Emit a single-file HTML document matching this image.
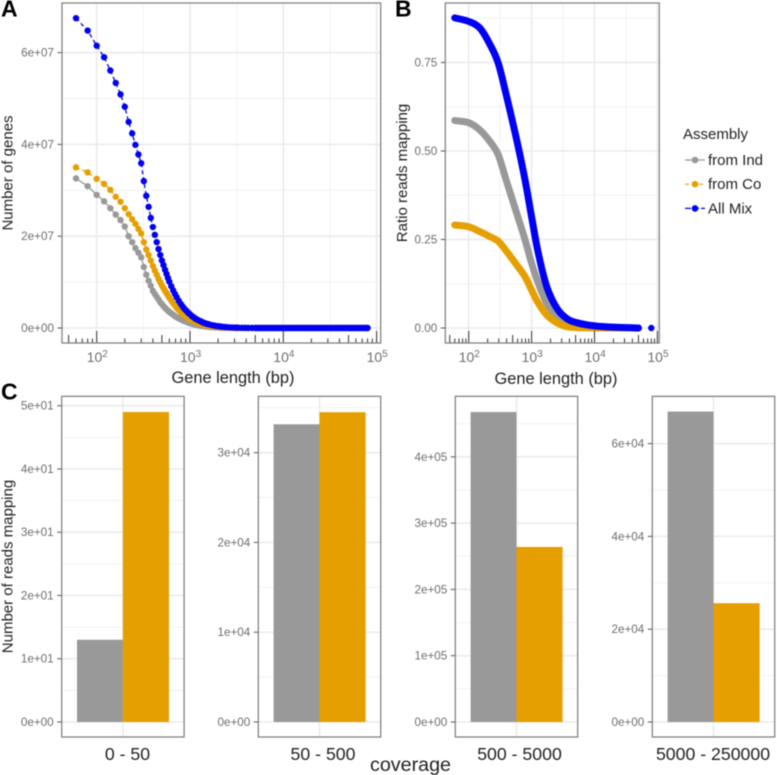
<!DOCTYPE html>
<html>
<head>
<meta charset="utf-8">
<title>Assembly mapping chart</title>
<style>
html,body{margin:0;padding:0;background:#fff;width:777px;height:775px;overflow:hidden}
svg{display:block;font-family:"Liberation Sans",sans-serif}
.tick{font-size:11.7px;fill:#6e6e6e}
.title{font-size:15px;fill:#222}
.xtitle{font-size:16.4px;fill:#222}
.cat{font-size:17.7px;fill:#222}
.cov{font-size:19.7px;fill:#222}
.tag{font-size:23px;font-weight:bold;fill:#000}
</style>
</head>
<body>
<svg id="chart" xmlns="http://www.w3.org/2000/svg" width="777" height="775" viewBox="0 0 777 775">
  <g id="layer" style="filter:blur(0.45px)"></g>
</svg>
<script>
// ---------- Panel A data: number of genes (values in units of 1e7) ----------
const lengthsA = [60,80,100,120,140,160,180,200,220,240,260,280,300,320,340,360,380,400,420,440,460,480,500,
 520,540,560,580,600,630,660,690,720,760,
 800,840,880,920,960,1000,1050,1100,1150,1200,
 1260,1320,1380,1450,1520,1600,1700,1800,1900,2000,
 2100,2200,2350,2500,2700,2900,3100,3300,3600,3900,
 4200,4600,5000,
 5250,5500,5800,6100,6400,6700,7000,7400,7800,8200,
 8600,9000,9500,10000,10500,11000,11600,12200,12800,13400,
 14100,14800,15500,16300,17100,18000,18900,19800,20800,21800,
 22900,24000,25200,26500,27800,29200,30700,32200,33800,35500,
 37300,39200,41100,43200,45300,47600,50000,52500,55100,57900,
 60800,63800,67000,70400,73900,77600,80000];
const genesInd = [3.26,3.09,2.90,2.76,2.61,2.47,2.35,2.21,2.00,1.87,1.74,1.64,1.54,1.33,1.16,1.03,0.92,0.81,0.74,0.68,0.62,0.56,0.52,
 0.48,0.44,0.41,0.38,0.35,0.32,0.29,0.26,0.235,0.21,
 0.185,0.165,0.148,0.132,0.118,0.105,0.092,0.08,0.07,0.062,
 0.053,0.046,0.04,0.034,0.029,0.024,0.019,0.015,0.012,0.01,
 0.008,0.006,0.005,0.003,0.002,0.002,0.001,0.001,0,0,
 0,0,0,
 0,0,0,0,0,0,0,0,0,0,
 0,0,0,0,0,0,0,0,0,0,
 0,0,0,0,0,0,0,0,0,0,
 0,0,0,0,0,0,0,0,0,0,
 0,0,0,0,0,0,0,0,0,0,
 0,0,0,0,0,0,0];
const genesCo = [3.50,3.39,3.25,3.14,3.01,2.86,2.75,2.61,2.48,2.37,2.27,2.16,2.06,1.87,1.71,1.59,1.47,1.35,1.25,1.16,1.07,1.00,0.93,
 0.87,0.81,0.76,0.71,0.66,0.60,0.54,0.49,0.44,0.39,
 0.34,0.30,0.27,0.24,0.215,0.19,0.165,0.145,0.125,0.11,
 0.095,0.08,0.07,0.06,0.05,0.042,0.034,0.027,0.022,0.018,
 0.015,0.012,0.009,0.007,0.005,0.003,0.002,0.002,0.001,0.001,
 0,0,0,
 0,0,0,0,0,0,0,0,0,0,
 0,0,0,0,0,0,0,0,0,0,
 0,0,0,0,0,0,0,0,0,0,
 0,0,0,0,0,0,0,0,0,0,
 0,0,0,0,0,0,0,0,0,0,
 0,0,0,0,0,0,0];
const genesMix = [6.75,6.48,6.15,5.90,5.61,5.34,5.09,4.82,4.49,4.24,3.99,3.78,3.59,3.20,2.88,2.64,2.40,2.20,2.03,1.87,1.72,1.59,1.47,
 1.37,1.27,1.18,1.09,1.01,0.91,0.82,0.74,0.67,0.59,
 0.52,0.46,0.41,0.37,0.33,0.30,0.26,0.23,0.20,0.18,
 0.16,0.14,0.12,0.105,0.09,0.08,0.065,0.055,0.045,0.04,
 0.033,0.028,0.022,0.018,0.013,0.01,0.008,0.006,0.004,0.003,
 0.002,0.002,0.001,
 0,0,0,0,0,0,0,0,0,0,
 0,0,0,0,0,0,0,0,0,0,
 0,0,0,0,0,0,0,0,0,0,
 0,0,0,0,0,0,0,0,0,0,
 0,0,0,0,0,0,0,0,0,0,
 0,0,0,0,0,0,0];
const tickValuesA = [0,2,4,6];
const tickLabelsA = ["0e+00","2e+07","4e+07","6e+07"];
const minorValuesA = [1,3,5];

// ---------- Panel B data: ratio of reads mapping ----------
const lengthsB = [60,100,151,219,295,402,580,787,1000,1280,1740,2520,3610,5210,10000,22000,50000];
const ratioInd = [0.586,0.580,0.559,0.526,0.489,0.413,0.324,0.249,0.183,0.126,0.070,0.027,0.009,0.004,0.001,0,0];
const ratioCo  = [0.291,0.286,0.272,0.258,0.245,0.216,0.178,0.145,0.107,0.070,0.037,0.015,0.004,0.001,0,0,0];
const ratioMix = [0.876,0.866,0.847,0.800,0.748,0.653,0.531,0.418,0.314,0.211,0.117,0.056,0.027,0.015,0.006,0.002,0];
const lastMixLength = 80000;
const lastMixRatio = 0;
const tickValuesB = [0,0.25,0.5,0.75];
const tickLabelsB = ["0.00","0.25","0.50","0.75"];
const minorValuesB = [0.125,0.375,0.625,0.875];

// ---------- Panel C data: reads mapping per coverage bin ----------
const coverageBins = ["0 - 50","50 - 500","500 - 5000","5000 - 250000"];
const readsInd = [13,33150,467500,66900];
const readsCo = [49,34500,264000,25600];
const tickValues0 = [0,10,20,30,40,50];
const tickLabels0 = ["0e+00","1e+01","2e+01","3e+01","4e+01","5e+01"];
const tickValues1 = [0,10000,20000,30000];
const tickLabels1 = ["0e+00","1e+04","2e+04","3e+04"];
const tickValues2 = [0,100000,200000,300000,400000];
const tickLabels2 = ["0e+00","1e+05","2e+05","3e+05","4e+05"];
const tickValues3 = [0,20000,40000,60000];
const tickLabels3 = ["0e+00","2e+04","4e+04","6e+04"];

// ---------- Drawing ----------
const NS = "http://www.w3.org/2000/svg";
const layer = document.getElementById("layer");
const GREY = "#999999", ORANGE = "#E69F00", BLUE = "#0000F5";

function make(tag, parent) {
  const el = document.createElementNS(NS, tag);
  parent.appendChild(el);
  return el;
}
function group(parent, name) {
  const el = make("g", parent);
  
  
  return el;
}
function line(parent, name, x1, y1, x2, y2, color, w) {
  const el = make("line", parent);
  
  
  el.setAttribute("x1", x1); el.setAttribute("y1", y1);
  el.setAttribute("x2", x2); el.setAttribute("y2", y2);
  el.setAttribute("stroke", color); el.setAttribute("stroke-width", w);
  return el;
}
function text(parent, name, str, x, y, cls, anchor) {
  const el = make("text", parent);
  
  
  el.setAttribute("x", x); el.setAttribute("y", y);
  el.setAttribute("class", cls);
  el.setAttribute("text-anchor", anchor || "start");
  el.textContent = str;
  return el;
}
function frame(parent, l, t, r, b) {
  const el = make("rect", parent);
  
  
  el.setAttribute("x", l); el.setAttribute("y", t);
  el.setAttribute("width", r - l); el.setAttribute("height", b - t);
  el.setAttribute("fill", "none"); el.setAttribute("stroke", "#7a7a7a"); el.setAttribute("stroke-width", 1.2);
}
function yAxis(parent, values, labels, minors, yFn, l, r) {
  minors.forEach(function (v) { line(parent, "minor-gridline", l, yFn(v), r, yFn(v), "#f0f0f0", 0.9); });
  values.forEach(function (v, i) {
    line(parent, "major-gridline", l, yFn(v), r, yFn(v), "#eaeaea", 1.5);
    line(parent, "y-tick", l - 4.5, yFn(v), l, yFn(v), "#555", 1);
    text(parent, "y-tick-label", labels[i], l - 8, yFn(v) + 4, "tick", "end");
  });
}
function logXAxis(parent, xFn, l, r, t, b, sup) {
  const decades = [2, 3, 4, 5];
  [1.5, 2.5, 3.5, 4.5].forEach(function (d) {
    const x = xFn(Math.pow(10, d));
    if (x > l && x < r) line(parent, "minor-gridline", x, t, x, b, "#f0f0f0", 0.9);
  });
  decades.forEach(function (d) {
    const x = xFn(Math.pow(10, d));
    line(parent, "major-gridline", x, t, x, b, "#eaeaea", 1.5);
    const lab = text(parent, "x-tick-label", "10", x - sup, 362, "tick", "start");
    lab.style.fontSize = "14px";
    const s = make("tspan", lab);
    s.setAttribute("dy", "-5");
    s.setAttribute("font-size", "10");
    s.textContent = d;
  });
}
function logTicks(parent, xFn, b) {
  [1, 2, 3, 4].forEach(function (d) {
    [1, 2, 3, 4, 5, 6, 7, 8, 9].forEach(function (m) {
      const len = Math.pow(10, d) * m;
      if (len < 50) return;
      const h = m === 1 ? 12 : (m === 5 ? 8 : 4.5);
      line(parent, "log-tick", xFn(len), b, xFn(len), b - h, "#333", 1);
    });
  });
  line(parent, "log-tick", xFn(1e5), b, xFn(1e5), b - 12, "#333", 1);
}
function points(xs, ys) {
  return xs.map(function (x, i) { return x + "," + ys[i]; }).join(" ");
}
function dottedSeries(parent, name, lengths, values, xFn, yFn, color, r, dash) {
  const g = group(parent, name);
  const p = make("polyline", g);
  
  
  p.setAttribute("points", points(lengths.map(xFn), values.map(yFn)));
  p.setAttribute("fill", "none"); p.setAttribute("stroke", color); p.setAttribute("stroke-width", 1.3);
  if (dash) p.setAttribute("stroke-dasharray", dash);
  lengths.forEach(function (len, i) {
    const c = make("circle", g);
    
    
    c.setAttribute("cx", xFn(len)); c.setAttribute("cy", yFn(values[i]));
    c.setAttribute("r", r); c.setAttribute("fill", color);
  });
}
function smoothPath(xs, ys) {
  let d = "M" + xs[0] + " " + ys[0];
  for (let i = 0; i < xs.length - 1; i++) {
    const a = Math.max(i - 1, 0), b = i + 1, c = Math.min(i + 2, xs.length - 1);
    const c1x = xs[i] + (xs[b] - xs[a]) / 6, c1y = ys[i] + (ys[b] - ys[a]) / 6;
    const c2x = xs[b] - (xs[c] - xs[i]) / 6, c2y = ys[b] - (ys[c] - ys[i]) / 6;
    d += " C" + c1x + " " + c1y + " " + c2x + " " + c2y + " " + xs[b] + " " + ys[b];
  }
  return d;
}
function thickSeries(parent, name, lengths, values, xFn, yFn, color) {
  const p = make("path", parent);
  
  
  p.setAttribute("d", smoothPath(lengths.map(xFn), values.map(yFn)));
  p.setAttribute("fill", "none"); p.setAttribute("stroke", color); p.setAttribute("stroke-width", 7);
  p.setAttribute("stroke-linecap", "round"); p.setAttribute("stroke-linejoin", "round");
}
function rotated(parent, name, str, x, yMid) {
  const el = text(parent, name, str, 0, 0, "title", "middle");
  el.setAttribute("transform", "translate(" + x + "," + yMid + ") rotate(-90)");
}
function bar(parent, name, x0, x1, yTop, yBase, color) {
  const el = make("rect", parent);
  
  
  el.setAttribute("x", x0); el.setAttribute("y", yTop);
  el.setAttribute("width", x1 - x0); el.setAttribute("height", yBase - yTop);
  el.setAttribute("fill", color);
}

// Panel A
const gA = group(layer, "panel-a");
const xA = function (len) { return 96.7 + 93.3 * (Math.log10(len) - 2); };
const yA = function (v) { return 328 - v * 45.9; };
logXAxis(gA, xA, 62, 380.7, 3, 343, 10);
yAxis(gA, tickValuesA, tickLabelsA, minorValuesA, yA, 62, 380.7);
dottedSeries(gA, "series-from-ind", lengthsA, genesInd, xA, yA, GREY, 3.2, null);
dottedSeries(gA, "series-from-co", lengthsA, genesCo, xA, yA, ORANGE, 3.2, "4 3");
dottedSeries(gA, "series-all-mix", lengthsA, genesMix, xA, yA, BLUE, 3.2, "4 3");
logTicks(gA, xA, 343);
frame(gA, 62, 3, 380.7, 343);
text(gA, "x-axis-title", "Gene length (bp)", 233, 383, "xtitle", "middle");
rotated(gA, "y-axis-title", "Number of genes", 12.5, 173);
text(gA, "panel-label-a", "A", 1, 16.5, "tag");

// Panel B
const gB = group(layer, "panel-b");
const xB = function (len) { return 468.7 + 62.9 * (Math.log10(len) - 2); };
const yB = function (v) { return 328 - v * 354; };
logXAxis(gB, xB, 445.3, 659.3, 3, 343, 10);
yAxis(gB, tickValuesB, tickLabelsB, minorValuesB, yB, 445.3, 659.3);
thickSeries(gB, "ratio-from-ind", lengthsB, ratioInd, xB, yB, GREY);
thickSeries(gB, "ratio-from-co", lengthsB, ratioCo, xB, yB, ORANGE);
thickSeries(gB, "ratio-all-mix", lengthsB, ratioMix, xB, yB, BLUE);
const lastDot = make("circle", gB);


lastDot.setAttribute("cx", xB(lastMixLength));
lastDot.setAttribute("cy", yB(lastMixRatio));
lastDot.setAttribute("r", 3.2);
lastDot.setAttribute("fill", BLUE);
logTicks(gB, xB, 343);
frame(gB, 445.3, 3, 659.3, 343);
text(gB, "x-axis-title", "Gene length (bp)", 556, 384, "xtitle", "middle");
rotated(gB, "y-axis-title", "Ratio reads mapping", 407, 173);
text(gB, "panel-label-b", "B", 395, 16.5, "tag");

// Panel C
const gC = group(layer, "panel-c");
function barPanel(idx, left, ticks, labels, pxPerUnit, labelCenter) {
  const g = group(gC, "bar-panel-" + (idx + 1));
  const right = left + 122.4, base = 722;
  const yFn = function (v) { return base - v * pxPerUnit; };
  const step = ticks[1] - ticks[0];
  const minors = ticks.map(function (v) { return v + step / 2; }).filter(function (v) { return yFn(v) > 397; });
  const mid = left + 61.2;
  line(g, "major-gridline", mid, 396.3, mid, 737, "#eaeaea", 1.5);
  yAxis(g, ticks, labels, minors, yFn, left, right);
  bar(g, "bar-from-ind", left + 15.3, mid, yFn(readsInd[idx]), base, GREY);
  bar(g, "bar-from-co", mid, left + 107.3, yFn(readsCo[idx]), base, ORANGE);
  frame(g, left, 396.3, right, 737);
  text(g, "x-category-label", coverageBins[idx], labelCenter, 760, "cat", "middle");
}
barPanel(0, 61.7, tickValues0, tickLabels0, 6.326, 127.5);
barPanel(1, 258.3, tickValues1, tickLabels1, 0.00898, 323);
barPanel(2, 455.3, tickValues2, tickLabels2, 0.000663, 519.5);
barPanel(3, 652.3, tickValues3, tickLabels3, 0.00464, 713);
rotated(gC, "y-axis-title", "Number of reads mapping", 12.5, 566.5);
text(gC, "x-axis-title", "coverage", 410.5, 771, "cov", "middle");
text(gC, "panel-label-c", "C", 1, 399.5, "tag");

// Legend
const legendNames = ["from Ind", "from Co", "All Mix"];
const legendColors = [GREY, ORANGE, BLUE];
const legendDashes = [null, "4 3", "6 2"];
const gL = group(layer, "legend");
text(gL, "legend-title", "Assembly", 683, 139, "title");
legendNames.forEach(function (name, i) {
  const g = group(gL, "legend-entry");
  const y = 160 + i * 24.2;
  const l = line(g, "legend-line", 685, y, 705, y, legendColors[i], 1.2);
  if (legendDashes[i]) l.setAttribute("stroke-dasharray", legendDashes[i]);
  const c = make("circle", g);
  
  
  c.setAttribute("cx", 695); c.setAttribute("cy", y); c.setAttribute("r", 3.3); c.setAttribute("fill", legendColors[i]);
  text(g, "legend-label", name, 708, y + 5, "title");
});
</script>
</body>
</html>
